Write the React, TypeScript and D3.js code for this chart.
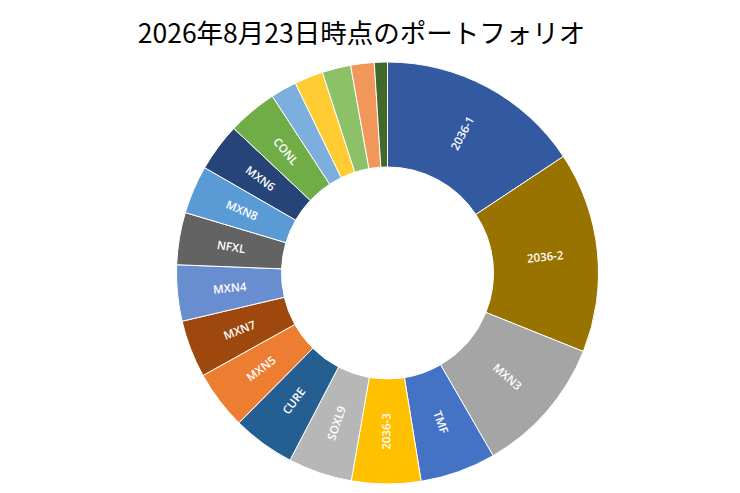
import { useEffect, useRef } from 'react';
import * as d3 from 'd3';

// 銘柄（時計回り、12時の位置から）
const names = [
  '2036-1', '2036-2', 'MXN3', 'TMF', '2036-3', 'SOXL9', 'CURE', 'MXN5', 'MXN7',
  'MXN4', 'NFXL', 'MXN8', 'MXN6', 'CONL', 'その他1', 'その他2', 'その他3', 'その他4', 'その他5',
];
// 構成比（%）— 画像から読み取った概算値
const shares = [
  15.7, 15.4, 10.6, 5.8, 5.3, 4.9, 4.8, 4.5, 4.4,
  4.3, 4.0, 3.7, 3.7, 3.8, 2.0, 2.2, 2.2, 1.8, 1.0,
];
const colors = [
  '#335AA1', '#997300', '#A5A5A5', '#4472C4', '#FFC000', '#B7B7B7', '#255E91', '#ED7D31', '#9E480E',
  '#698ED0', '#636363', '#5B9BD5', '#264478', '#70AD47', '#7CAFDD', '#FFCD33', '#8CC168', '#F1975A', '#43682B',
];
const title = '2026年8月23日時点のポートフォリオ';

const App = () => {
  const svgRef = useRef<SVGSVGElement>(null);

  useEffect(() => {
    const svg = d3.select(svgRef.current);
    svg.selectAll('*').remove();

    const width = 740;
    const cx = 387.5;
    const cy = 273;
    const outer = 211;
    const inner = 106;

    svg.append('rect').attr('width', width).attr('height', 493).attr('fill', '#fff');

    svg
      .append('text')
      .attr('x', 361.5)
      .attr('y', 43)
      .attr('text-anchor', 'middle')
      .style('font-family', '"Noto Sans CJK JP", sans-serif')
      .style('font-size', '26.5px')
      .attr('fill', '#000')
      .text(title);

    const idx = d3.range(shares.length);
    const pie = d3.pie<number>().sort(null).value((i) => shares[i]);
    const arcs = pie(idx);
    const arc = d3.arc<d3.PieArcDatum<number>>().innerRadius(inner).outerRadius(outer);

    const g = svg.append('g').attr('transform', `translate(${cx},${cy})`);

    g.selectAll('path')
      .data(arcs)
      .enter()
      .append('path')
      .attr('d', arc)
      .attr('fill', (d) => colors[d.data])
      .attr('stroke', '#fff')
      .attr('stroke-width', 1);

    // ラベル（小さいスライスは表示しない）
    const mid = (inner + outer) / 2;
    g.selectAll('text.lbl')
      .data(arcs.filter((d) => shares[d.data] >= 3))
      .enter()
      .append('text')
      .attr('class', 'lbl')
      .attr('transform', (d) => {
        const a = (d.startAngle + d.endAngle) / 2;
        const x = mid * Math.sin(a);
        const y = -mid * Math.cos(a);
        let rot = (a * 180) / Math.PI - 90;
        if (rot > 90) rot -= 180;
        return `translate(${x},${y}) rotate(${rot})`;
      })
      .attr('text-anchor', 'middle')
      .attr('dy', '0.35em')
      .attr('fill', '#fff')
      .style('font-family', '"Open Sans", sans-serif')
      .style('font-size', '11.5px')
      .style('font-weight', 600)
      .text((d) => names[d.data]);
  }, []);

  return (
    <svg
      ref={svgRef}
      width={740}
      height={493}
      style={{ position: 'absolute', left: 0, top: 0 }}
    ></svg>
  );
};

export default App;
